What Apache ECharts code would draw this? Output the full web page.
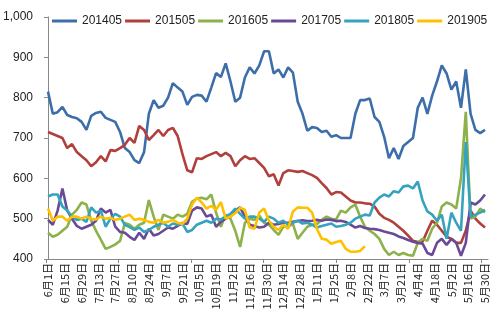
<!DOCTYPE html>
<html><head><meta charset="utf-8">
<script src="https://cdn.jsdelivr.net/npm/echarts@6/dist/echarts.min.js"></script>
<style>html,body{margin:0;padding:0;background:#fff}#c{width:495px;height:329px}</style>
</head><body><div id="c"></div>
<script>
// x labels (every 14 days starting 6月1日)
const xLabels = ['6月1日','6月15日','6月29日','7月13日','7月27日','8月10日','8月24日','9月7日','9月21日','10月5日','10月19日','11月2日','11月16日','11月30日','12月14日','12月28日','1月11日','1月25日','2月8日','2月22日','3月7日','3月21日','4月4日','4月18日','5月2日','5月16日','5月30日'];
const labelStep = 14;   // days between labels
const dataStep = 4;     // days between sampled points
const seriesNames = ['201405','201505','201605','201705','201805','201905'];
const yTicks = [400,500,600,700,800,900,1000];

const s201405 = [815,760,764,777,757,752,749,740,720,755,762,765,750,745,740,715,675,665,645,638,665,760,794,775,780,800,836,825,815,782,802,807,805,790,825,861,851,885,840,790,800,850,875,860,880,915,915,860,870,850,875,862,790,760,718,727,725,715,718,703,707,700,700,700,760,794,794,798,752,740,703,650,675,648,680,690,700,775,800,760,805,840,880,860,820,840,775,870,760,720,712,720];
const s201505 = [715,710,705,700,675,685,665,655,645,630,640,655,642,670,668,675,683,700,688,730,720,695,707,720,705,720,725,705,660,620,615,650,648,655,660,665,655,663,655,630,645,655,648,650,638,626,605,610,582,613,620,618,616,618,613,608,601,588,576,560,566,565,555,545,540,540,538,537,530,512,502,497,490,480,470,458,445,442,443,470,495,485,470,455,450,440,440,470,520,500,488,478];
const s201605 = [465,455,460,470,480,510,522,540,535,495,470,448,425,430,436,445,489,485,475,485,490,546,505,472,510,505,500,510,505,512,542,550,552,548,560,515,480,510,500,470,430,490,500,497,508,490,485,472,460,480,480,487,450,465,480,485,487,497,505,500,498,520,515,528,535,505,480,470,462,450,425,410,418,410,415,410,408,440,450,445,475,490,530,540,535,525,600,765,500,505,525,515];
const s201705 = [497,485,520,575,520,500,482,475,480,485,495,525,515,522,480,467,465,455,447,465,450,475,458,462,470,478,475,482,489,487,520,528,525,505,510,480,492,500,505,520,528,505,485,482,478,480,490,485,487,490,490,492,494,496,494,495,497,495,498,497,494,495,492,485,478,482,477,475,474,472,468,465,462,456,452,447,443,440,438,415,410,440,450,435,450,440,408,440,540,535,545,560];
const s201805 = [555,560,560,530,520,505,497,500,492,528,515,520,480,500,512,505,485,479,472,478,467,472,480,485,490,480,488,485,488,467,472,485,490,495,490,500,498,505,512,525,512,500,505,505,500,492,505,500,490,495,485,490,495,488,490,485,478,482,485,488,480,482,485,490,500,505,510,508,540,552,560,555,568,565,580,582,575,592,545,518,510,495,510,450,515,490,470,690,505,510,515,522];
const s201905 = [525,495,505,505,495,505,505,500,505,500,498,505,500,502,497,500,505,510,497,500,497,492,490,497,490,492,497,490,487,500,535,552,540,525,532,522,541,500,505,514,527,522,478,475,515,525,495,480,472,485,475,518,528,527,527,515,475,450,448,438,442,445,425,418,418,420,432];

const colors = ['#3d6eaa','#b13f3c','#8db14b','#6a4a96','#35a3bd','#ffc000'];
const allData = [s201405,s201505,s201605,s201705,s201805,s201905];

const labelDays = xLabels.map((_, i) => i * labelStep);
const tickDays = [-1.65, 58.8, 119.25, 179.7, 240.15, 300.6, 361.05];

const chart = echarts.init(document.getElementById('c'), null, {renderer: 'canvas'});
chart.setOption({
  animation: false,
  backgroundColor: '#fff',
  color: colors,
  legend: {
    top: 10, left: 47,
    icon: 'rect', itemWidth: 25, itemHeight: 3, itemGap: 3,
    textStyle: {fontFamily: 'Liberation Sans', fontSize: 12, color: '#222'},
    data: seriesNames
  },
  grid: {left: 41, right: 7, top: 17, bottom: 70, containLabel: false},
  xAxis: {
    type: 'value', min: -1.65, max: 366.5,
    splitLine: {show: false},
    axisLine: {lineStyle: {color: '#888', width: 1}},
    axisTick: {show: true, customValues: tickDays, length: 4, inside: false, lineStyle: {color: '#888'}},
    axisLabel: {
      customValues: labelDays, rotate: 90, margin: 4,
      fontFamily: 'Noto Sans CJK SC', fontSize: 11, color: '#222',
      formatter: v => xLabels[Math.round(v / labelStep)]
    }
  },
  yAxis: {
    type: 'value', min: 400, max: 1000, interval: 100,
    splitLine: {show: false},
    axisLine: {show: true, lineStyle: {color: '#888', width: 1}},
    axisTick: {show: true, length: 4, lineStyle: {color: '#888'}},
    axisLabel: {margin: 13, fontFamily: 'Liberation Sans', fontSize: 12, color: '#222'}
  },
  series: seriesNames.map((n, k) => ({
    name: n, type: 'line', showSymbol: false, symbol: 'none',
    lineStyle: {width: 2.6, color: colors[k]},
    itemStyle: {color: colors[k]},
    data: allData[k].map((v, i) => [i * dataStep, v])
  }))
});
</script></body></html>
